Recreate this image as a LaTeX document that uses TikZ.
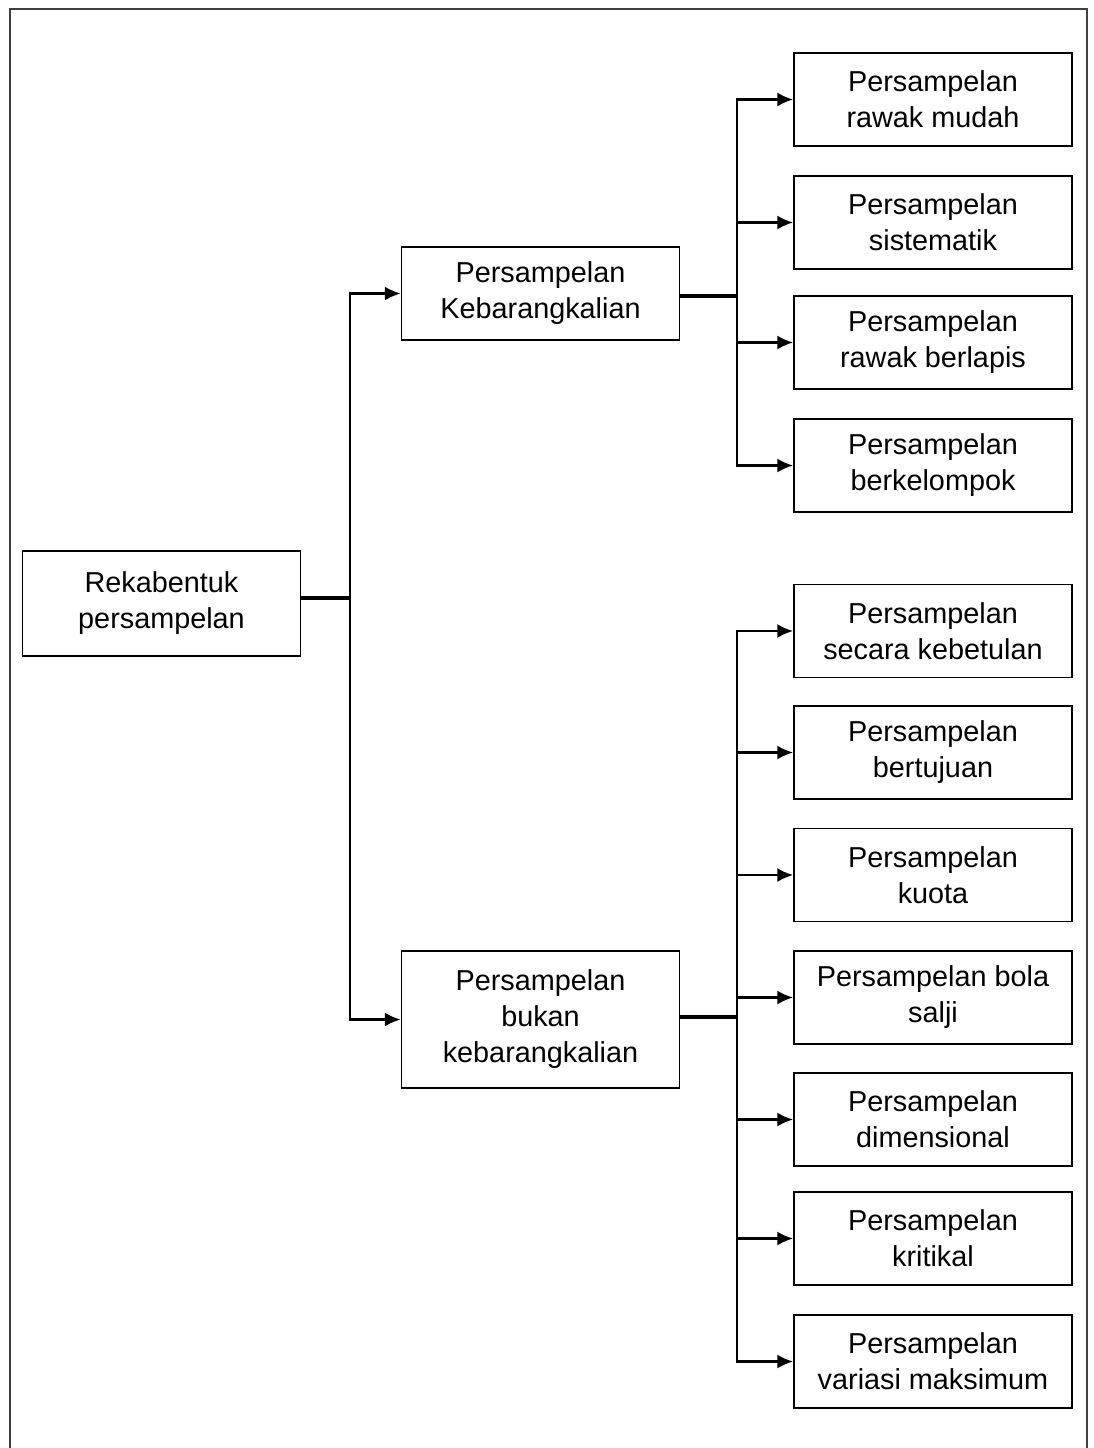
\documentclass[tikz,border=0pt]{standalone}
\usepackage{fontspec}
\setmainfont{Liberation Sans}
\usetikzlibrary{arrows.meta}
\begin{document}
\begin{tikzpicture}[x=0.02cm,y=-0.02cm]
    \tikzset{box/.style = {shape=rectangle,draw,line width=1.1pt,minimum width=5.56cm,minimum height=1.86cm,align=center,inner sep=2pt,font=\fontsize{16.4}{20.5}\selectfont}}
    \tikzset{link/.style = {line width=1.2pt,-{Latex[length=9pt,width=8pt]}}}
    \useasboundingbox (0,0) rectangle (1094,1448);
    \draw[line width=1.2pt,black!75] (10,1448) -- (10,9) -- (1087,9) -- (1087,1448);
    % root and middle level
    \node[box,minimum height=2.1cm] (r) at (161.5,603.5) {Rekabentuk\\persampelan};
    \node[box] (k) at (540.5,293.5) {Persampelan\\Kebarangkalian};
    \node[box,minimum height=2.74cm] (b) at (540.5,1019.5) {Persampelan\\bukan\\kebarangkalian};
    % leaves
    \node[box] (a1) at (933,99.5) {Persampelan\\rawak mudah};
    \node[box] (a2) at (933,222.5) {Persampelan\\sistematik};
    \node[box] (a3) at (933,342.5) {Persampelan\\rawak berlapis};
    \node[box] (a4) at (933,465.5) {Persampelan\\berkelompok};
    \node[box] (c1) at (933,631) {Persampelan\\secara kebetulan};
    \node[box] (c2) at (933,752.5) {Persampelan\\bertujuan};
    \node[box] (c3) at (933,875) {Persampelan\\kuota};
    \node[box] (c4) at (933,997.5) {Persampelan bola\\salji};
    \node[box] (c5) at (933,1119.5) {Persampelan\\dimensional};
    \node[box] (c6) at (933,1238.5) {Persampelan\\kritikal};
    \node[box] (c7) at (933,1361.5) {Persampelan\\variasi maksimum};
    % branch points
    \coordinate (t0) at (350,598);
    \coordinate (t1) at (737,296);
    \coordinate (t2) at (737,1017);
    \draw[line width=1.8pt] (r.east |- t0) -- (t0);
    \draw[line width=1.8pt] (k.east |- t1) -- (t1);
    \draw[line width=1.8pt] (b.east |- t2) -- (t2);
    \draw[link] (t0) |- (k);
    \draw[link] (t0) |- (b);
    \foreach \n in {a1,a2,a3,a4}
        \draw[link] (t1) |- (\n);
    \foreach \n in {c1,c2,c3,c4,c5,c6,c7}
        \draw[link] (t2) |- (\n);
\end{tikzpicture}
\end{document}
